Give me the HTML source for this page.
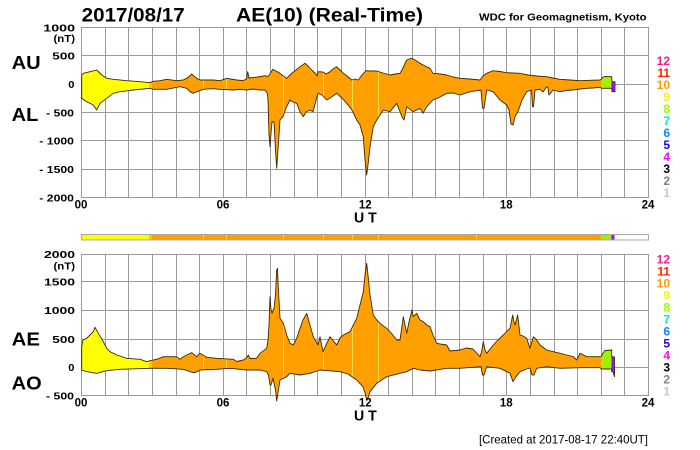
<!DOCTYPE html>
<html><head><meta charset="utf-8"><style>html,body{margin:0;padding:0;background:#fff;width:700px;height:450px;overflow:hidden}svg{display:block}</style></head>
<body>
<svg width="700" height="450" viewBox="0 0 700 450" xmlns="http://www.w3.org/2000/svg" font-family="'Liberation Sans', Arial, sans-serif">
<defs>
<linearGradient id="g" gradientUnits="userSpaceOnUse" x1="81.5" y1="0" x2="648.5" y2="0">
<stop offset="0" stop-color="#ffff00"/><stop offset="0.1190" stop-color="#ffff00"/>
<stop offset="0.1190" stop-color="#ffc800"/><stop offset="0.1243" stop-color="#ffc800"/>
<stop offset="0.1243" stop-color="#ffa000"/><stop offset="0.9162" stop-color="#ffa000"/>
<stop offset="0.9162" stop-color="#a0f000"/><stop offset="0.9351" stop-color="#a0f000"/>
<stop offset="0.9351" stop-color="#7a10ff"/><stop offset="0.9380" stop-color="#7a10ff"/>
<stop offset="0.9380" stop-color="#ff00ff"/><stop offset="1" stop-color="#ff00ff"/>
</linearGradient>
<path id="pu" d="M81.7,75 L83.3,73.3 90,71.7 96.7,70 101.7,75 106.7,78.3 113.3,79.3 126.7,80.7 140,81.7 150,82.7 153.3,81.3 160,80.7 166.7,79.3 176.7,80.7 183.3,80 188.3,77.3 191.7,74 196.7,78.3 200,80 213.3,80 220,80.7 226.7,78.3 236.7,80 243,80.7 246.5,79 247.7,71.7 249,78 258,77 265,75.7 268,76.5 270,74 272.7,69.3 276,71 280,73.3 286.7,78.3 292,73 296,70 300,66.7 305,63.3 308,66 311.7,70 315,73 317.3,76 318,71.7 323,72 326,74 330,71.7 333,69 336.7,66.7 340,70 343.3,73.3 347,76 351.7,80 355,79 358.3,80 362,75 366,70.7 370,71 376.7,71 383,73 390,75 395,74 400,73.3 403,68 406.7,60 409,59 411.7,58.3 415,60 420,63.3 425,66 430,68.3 433,73.3 440,74 446.7,75 453,77 460,78.3 470,79 480,80 483,76 486.7,73.3 493,70.7 500,71.5 506.7,72.7 513,73 520,73.3 528,75 536.7,76 546.7,76.7 553,78 560,79.3 570,80 580,80.7 590,80.3 600,80 601.5,79 603,77 605,76.5 611.7,76.7 612,81.7 615,81.7 615,91.7 612,91.7 611.7,88.3 601.5,88.3 600,87.3 593,88 586.7,88.3 580,89 573,90 566,90.5 560,91.7 553,90 549,95 548,88 546.7,86.7 543,92 540,89.3 535,90 533.5,106.7 532.5,106.7 531.5,90 526.7,91.7 522,100 518,111.7 515,116.7 513,125 511,124 509,110 506.7,105 500,100 493,91.7 486.7,90 484,108.3 482.5,108.3 481,90 470,91.7 460,95 453,93 446.7,93.3 440,97 433,100 426.7,106.7 423,113.3 420,108.3 413,111.7 406.7,106.7 404,120 402.5,118 396.7,103.3 390,111.7 383.3,110 376.7,120 373.3,126.7 370,146.7 368,165 366.7,175 365,160 363.3,136.7 360,125 356.7,120 352,110 346.7,103.3 342,98 336.7,93.3 330,98 326.7,100 322,95 318,93.3 314,108 313,111.7 310,110 306,112 303.3,116.7 300,111.7 296.7,103.3 293,102 290,100 286,108 283,116.7 280,120 278,150 276.7,168.3 275.5,150 274,122 272,121.7 270.5,140 270,146.7 269,135 268,100 267.3,93.3 265,90 260,90 253,89 246.7,90 240,89.3 233.3,90 220,89.3 213.3,88.7 203.3,89.3 196.7,91.7 193.3,93.3 190,91.7 186.7,88.3 180,86.7 166.7,89.3 153.3,89.3 150,88.3 133.3,90 120,91.7 113.3,93.3 106.7,98.3 100,103.3 96.7,110 93.3,105 86.7,101.7 81.7,98.3 Z"/>
<path id="pl" d="M81.7,346.7 L83,340 86.7,338.3 90,335 93.3,331.7 95,327.3 98.3,333.3 103.3,341.7 106.7,348.3 110,351.7 116.7,355 126.7,358.3 140,359.3 146.7,361.7 150,360.7 156.7,359.3 163.3,356.7 176.7,356.7 180,359.3 183,357 186.7,355 191.7,352.7 196.7,356.7 200,353.3 206.7,357.3 216.7,358.3 233.3,359.3 236.7,361.5 243.3,360 246.5,358 248.3,355 250,358.5 256.7,358.3 260,353.3 266.7,348.3 268,340 269,325 270,296.7 271,310 272,313.3 274,308.3 275.5,295 276.7,270 277.5,268.3 278,281.7 280,318.3 283.3,323.3 286.7,335 290,343.3 293.3,345 296.7,338.3 300,328.3 303,320 306.7,313.3 310,325 313.3,336.7 318,345 320,336.7 323,351.7 326,345 330,336.7 336.7,345 340,338 343.3,335 350,331.7 356.7,318.3 360,305 363.3,291.7 365,275 366.7,263.3 368,275 370,295 373.3,315 376.7,320 380,323.3 386.7,328.3 392,334 396.7,340 400,340 403.3,316.7 405,325 406.7,333.3 409,322 412,310 413.3,316.7 416.7,313.3 420,320 423.3,321.7 426.7,325 430,326.7 433,335 436.7,343.3 440,344 446.7,345 450,351 460,350 466,348 473,349 480,356.7 481.5,352 483.3,341.7 485,350 486.7,353.3 493.3,345 498,340 503.3,335 507,331 510,328.3 512.7,315 514,322 515,325 517.7,315 520,335 523,336 526.7,338.3 530,348.3 533.3,336.7 536.7,340 540,345 546.7,350 553.3,351.7 560,353.3 566.7,355 573.3,356.7 576.7,360 580,353.3 586.7,356.7 595,356.7 601,356.7 603,353 605,350.5 611.7,350 611.7,356.7 614.5,357 614.5,376.7 613,371.7 611.7,371.7 611.7,369 601,369 600,367.7 580,367.7 560,368.3 546.7,366.7 536.7,368.3 534,375 532,375 530,368 526.7,369 520,371.7 516,376.7 513,381.7 510,373.3 500,368.3 486.7,366.7 484,375 482.5,375 481,366.7 460,368.3 446.7,368.3 430,371 420,370 413.3,368.3 406.7,371.7 400,373.3 386.7,376.7 376.7,383.3 370,391.7 368,398 366.7,400 365,393 363,386.7 356.7,380 348,374 340,371.7 320,370 310,373.3 300,375 290,373.3 286.7,376.7 280,380 277.5,396 276.7,401 275.5,390 273,378.3 271,385 270,385 268.5,375 266.7,371.7 260,370 246.7,370 230,368.3 216.7,369.3 200,370 196.7,372 193.3,372.7 183.3,369.3 166.7,368.3 150,368.3 120,369.3 106.7,370.7 96.7,373.3 86.7,371.7 81.7,370 Z"/>
<clipPath id="cu"><use href="#pu"/></clipPath>
<clipPath id="cl"><use href="#pl"/></clipPath>
</defs>

<!-- upper grid -->
<g stroke="#9a9a9a" stroke-width="1" fill="none">
<path d="M105.5,27.5V197.5M128.5,27.5V197.5M152.5,27.5V197.5M176.5,27.5V197.5M199.5,27.5V197.5M223.5,27.5V197.5M246.5,27.5V197.5M270.5,27.5V197.5M294.5,27.5V197.5M317.5,27.5V197.5M341.5,27.5V197.5M365.5,27.5V197.5M388.5,27.5V197.5M412.5,27.5V197.5M435.5,27.5V197.5M459.5,27.5V197.5M483.5,27.5V197.5M506.5,27.5V197.5M530.5,27.5V197.5M554.5,27.5V197.5M577.5,27.5V197.5M601.5,27.5V197.5M624.5,27.5V197.5"/>
<path d="M81.5,55.5H648.5M81.5,84.5H648.5M81.5,112.5H648.5M81.5,140.5H648.5M81.5,169.5H648.5"/>
<rect x="81.5" y="27.5" width="567" height="170"/>
</g>
<!-- lower grid -->
<g stroke="#9a9a9a" stroke-width="1" fill="none">
<path d="M105.5,254.5V395.5M128.5,254.5V395.5M152.5,254.5V395.5M176.5,254.5V395.5M199.5,254.5V395.5M223.5,254.5V395.5M246.5,254.5V395.5M270.5,254.5V395.5M294.5,254.5V395.5M317.5,254.5V395.5M341.5,254.5V395.5M365.5,254.5V395.5M388.5,254.5V395.5M412.5,254.5V395.5M435.5,254.5V395.5M459.5,254.5V395.5M483.5,254.5V395.5M506.5,254.5V395.5M530.5,254.5V395.5M554.5,254.5V395.5M577.5,254.5V395.5M601.5,254.5V395.5M624.5,254.5V395.5"/>
<path d="M81.5,281.5H648.5M81.5,310.5H648.5M81.5,339.5H648.5M81.5,367.5H648.5"/>
<rect x="81.5" y="254.5" width="567" height="141"/>
</g>

<!-- data -->
<use href="#pu" fill="url(#g)"/>
<g clip-path="url(#cu)" stroke="#ffd640" stroke-width="1">
<path d="M203.5,50V180M226.5,50V180M283.5,50V180M323.5,50V180M352.5,50V180M378.5,50V180"/>
</g>
<use href="#pu" fill="none" stroke="#3d2800" stroke-width="0.9" stroke-linejoin="round"/>

<use href="#pl" fill="url(#g)"/>
<g clip-path="url(#cl)" stroke="#ffd640" stroke-width="1">
<path d="M203.5,250V405M226.5,250V405M283.5,250V405M323.5,250V405M352.5,250V405M378.5,250V405"/>
</g>
<use href="#pl" fill="none" stroke="#3d2800" stroke-width="0.9" stroke-linejoin="round"/>

<!-- class bar -->
<rect x="81.5" y="234.5" width="567" height="5.5" fill="#fff" stroke="#a8a8a8" stroke-width="1"/>
<rect x="82" y="235" width="532.5" height="4.5" fill="url(#g)"/>
<g stroke="#ffd640" stroke-width="1"><path d="M203.5,235V239.5M226.5,235V239.5M283.5,235V239.5M323.5,235V239.5M352.5,235V239.5M378.5,235V239.5M476.5,235V239.5"/></g>

<!-- titles -->
<g font-weight="bold" fill="#000">
<text x="81.7" y="21.7" font-size="19" textLength="103" lengthAdjust="spacingAndGlyphs">2017/08/17</text>
<text x="236" y="21.7" font-size="19" textLength="187" lengthAdjust="spacingAndGlyphs">AE(10) (Real-Time)</text>
<text x="479" y="20.7" font-size="10" textLength="167.5" lengthAdjust="spacingAndGlyphs">WDC for Geomagnetism, Kyoto</text>

<text x="11.7" y="69" font-size="18.5" textLength="29" lengthAdjust="spacingAndGlyphs">AU</text>
<text x="11.7" y="121" font-size="18.5" textLength="26.6" lengthAdjust="spacingAndGlyphs">AL</text>
<text x="11.7" y="345.7" font-size="18.5" textLength="28.3" lengthAdjust="spacingAndGlyphs">AE</text>
<text x="11.7" y="389.5" font-size="18.5" textLength="30" lengthAdjust="spacingAndGlyphs">AO</text>

<!-- upper y labels -->
<g font-size="10.5">
<text x="43.3" y="31.5" textLength="31.7" lengthAdjust="spacingAndGlyphs">1000</text>
<text x="53.5" y="42" textLength="21.5" lengthAdjust="spacingAndGlyphs">(nT)</text>
<text x="52.3" y="59.4" textLength="22.7" lengthAdjust="spacingAndGlyphs">500</text>
<text x="68.3" y="88" textLength="6.2" lengthAdjust="spacingAndGlyphs">0</text>
<text x="46" y="116.3" textLength="28" lengthAdjust="spacingAndGlyphs">- 500</text>
<text x="39.3" y="144.5" textLength="34.7" lengthAdjust="spacingAndGlyphs">- 1000</text>
<text x="39.3" y="173" textLength="34.7" lengthAdjust="spacingAndGlyphs">- 1500</text>
<text x="39.3" y="201.3" textLength="34.7" lengthAdjust="spacingAndGlyphs">- 2000</text>
</g>
<!-- lower y labels -->
<g font-size="10.5">
<text x="44" y="258" textLength="31" lengthAdjust="spacingAndGlyphs">2000</text>
<text x="53.5" y="269.5" textLength="21.5" lengthAdjust="spacingAndGlyphs">(nT)</text>
<text x="44" y="285.4" textLength="31" lengthAdjust="spacingAndGlyphs">1500</text>
<text x="44" y="314.2" textLength="31" lengthAdjust="spacingAndGlyphs">1000</text>
<text x="52.3" y="342.9" textLength="22.7" lengthAdjust="spacingAndGlyphs">500</text>
<text x="68.3" y="371" textLength="6.2" lengthAdjust="spacingAndGlyphs">0</text>
<text x="46" y="399.3" textLength="28" lengthAdjust="spacingAndGlyphs">- 500</text>
</g>

<!-- x labels -->
<g font-size="11.5" text-anchor="middle">
<text x="81" y="208.3">00</text><text x="223" y="208.3">06</text><text x="365.3" y="208.3">12</text><text x="506.3" y="208.3">18</text><text x="648" y="208.3">24</text>
<text x="81" y="406.7">00</text><text x="223" y="406.7">06</text><text x="365.3" y="406.7">12</text><text x="506.3" y="406.7">18</text><text x="648" y="406.7">24</text>
</g>
<text x="354" y="222.3" font-size="14.5" textLength="22.7" lengthAdjust="spacingAndGlyphs">U T</text>
<text x="354" y="420.7" font-size="14.5" textLength="22.7" lengthAdjust="spacingAndGlyphs">U T</text>

<!-- legends -->
<g font-size="12" text-anchor="end">
<text x="670" y="65" fill="#ff1a8c">12</text>
<text x="670" y="77" fill="#ff2200">11</text>
<text x="670" y="89" fill="#ff9900">10</text>
<text x="670" y="101" fill="#ffee00">9</text>
<text x="670" y="113" fill="#99ff00">8</text>
<text x="670" y="125" fill="#00eecc">7</text>
<text x="670" y="137" fill="#1a80ff">6</text>
<text x="670" y="149" fill="#2200ff">5</text>
<text x="670" y="161" fill="#ff00ff">4</text>
<text x="670" y="173" fill="#000000">3</text>
<text x="670" y="185" fill="#808080">2</text>
<text x="670" y="197" fill="#c8c8c8">1</text>

<text x="670" y="263.3" fill="#ff1a8c">12</text>
<text x="670" y="275.3" fill="#ff2200">11</text>
<text x="670" y="287.3" fill="#ff9900">10</text>
<text x="670" y="299.3" fill="#ffee00">9</text>
<text x="670" y="311.3" fill="#99ff00">8</text>
<text x="670" y="323.3" fill="#00eecc">7</text>
<text x="670" y="335.3" fill="#1a80ff">6</text>
<text x="670" y="347.3" fill="#2200ff">5</text>
<text x="670" y="359.3" fill="#ff00ff">4</text>
<text x="670" y="371.3" fill="#000000">3</text>
<text x="670" y="383.3" fill="#808080">2</text>
<text x="670" y="395.3" fill="#c8c8c8">1</text>
</g>
</g>

<text x="479" y="443.3" font-size="12" textLength="169" lengthAdjust="spacingAndGlyphs" fill="#000">[Created at 2017-08-17 22:40UT]</text>
</svg>
</body></html>
